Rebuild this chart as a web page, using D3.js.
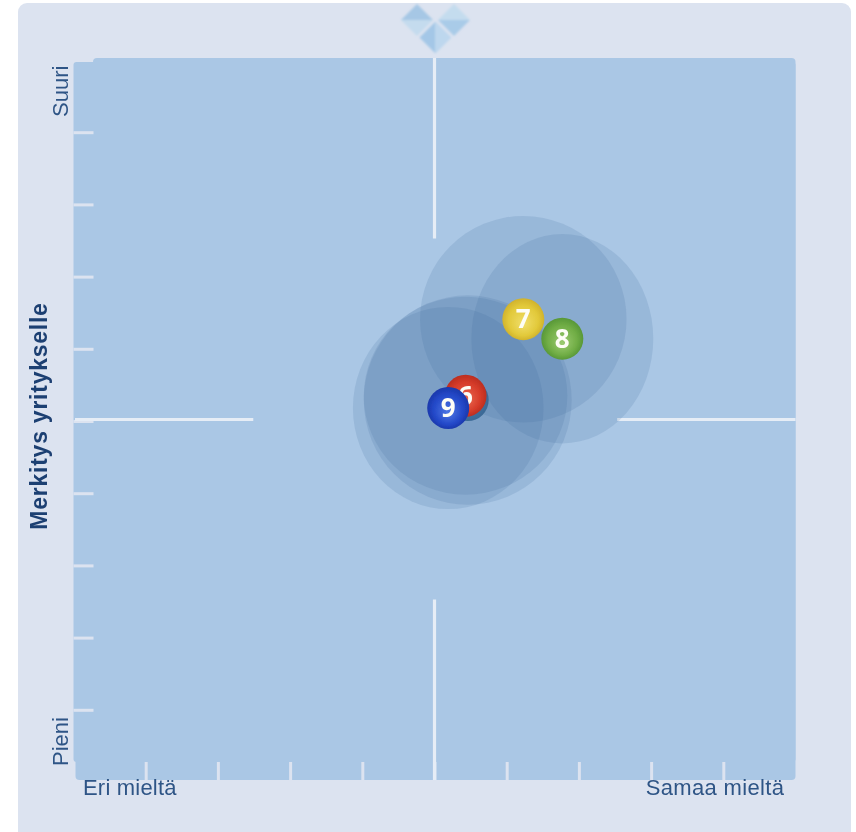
<!DOCTYPE html>
<html><head><meta charset="utf-8">
<script src="https://cdn.jsdelivr.net/npm/d3@7"></script>
<style>html,body{margin:0;padding:0;background:#fff}svg{display:block}</style>
</head><body><svg id="c" width="856" height="832"></svg>
<script>
const pointIds    = ["", "6", "7", "8", "9"];
const agreement   = [5.46, 5.43, 6.23, 6.77, 5.19];
const importance  = [5.29, 5.35, 6.41, 6.14, 5.18];
const spreadX     = [1.44, 1.41, 1.43, 1.26, 1.32];
const spreadY     = [1.45, 1.37, 1.43, 1.45, 1.40];
const ballColors  = [["#5f8db8","#3f6f9c","#3a6894"],["#ec6a50","#d63c2a","#b92c1f"],["#f0de6a","#e2c93a","#cfb02a"],["#9ccb72","#70ad45","#559535"],["#4f78e4","#2348c8","#1a36a8"]];
const tickValues  = [1,2,3,4,5,6,7,8,9];
const yEndLabels  = ["Pieni","Suuri"];
const xEndLabels  = ["Eri mieltä","Samaa mieltä"];
const yTitle      = "Merkitys yritykselle";
const points = pointIds.map((id,i)=>({id,x:agreement[i],y:importance[i],sx:spreadX[i],sy:spreadY[i],c:ballColors[i]}));

const svg = d3.select("#c");
const defs = svg.append("defs");
const blur = defs.append("filter").attr("id","soft").attr("filterUnits","userSpaceOnUse");
blur.attr("x",0).attr("y",0).attr("width",856).attr("height",832);
blur.append("feGaussianBlur").attr("stdDeviation",0.6);
const blur2 = defs.append("filter").attr("id","soft2").attr("filterUnits","userSpaceOnUse");
blur2.attr("x",0).attr("y",0).attr("width",856).attr("height",832);
blur2.append("feGaussianBlur").attr("stdDeviation",1.1);
points.forEach((p,i)=>{
  const g = defs.append("radialGradient").attr("id","ball"+i).attr("cx","50%").attr("cy","50%").attr("r","52%").attr("fx","50%").attr("fy","62%");
  g.append("stop").attr("offset","0%").attr("stop-color",p.c[0]);
  g.append("stop").attr("offset","68%").attr("stop-color",p.c[1]);
  g.append("stop").attr("offset","100%").attr("stop-color",p.c[2]);
});

const root = svg.append("g").attr("filter","url(#soft)");
const panelColor = "#dce3f0", plotColor = "#aac7e5", crossColor = "#e6edf6";
root.append("rect").attr("x",18).attr("y",3).attr("width",833).attr("height",840).attr("rx",9).attr("fill",panelColor);

// logo
const logoCells = [
  {cx:417,cy:20,a:"#a6c7e5",b:"#c4dbee",horizontal:true},
  {cx:454,cy:20,a:"#c4dcee",b:"#a9cbe8",horizontal:true},
  {cx:435.5,cy:37.5,a:"#a4c7e7",b:"#bdd7ee",horizontal:false}
];
const h = 16;
const logo = root.append("g").attr("filter","url(#soft2)");
logoCells.forEach(d=>{
  const pts1 = d.horizontal ? [[d.cx-h,d.cy],[d.cx,d.cy-h],[d.cx+h,d.cy]] : [[d.cx,d.cy-h],[d.cx-h,d.cy],[d.cx,d.cy+h]];
  const pts2 = d.horizontal ? [[d.cx-h,d.cy],[d.cx,d.cy+h],[d.cx+h,d.cy]] : [[d.cx,d.cy-h],[d.cx+h,d.cy],[d.cx,d.cy+h]];
  logo.append("polygon").attr("points",pts1.join(" ")).attr("fill",d.a);
  logo.append("polygon").attr("points",pts2.join(" ")).attr("fill",d.b);
});

const x = d3.scaleLinear().domain([0,10]).range([73.5,795.5]);
const y = d3.scaleLinear().domain([0,10]).range([782,60]);

// plot background (stepped corners)
root.append("rect").attr("x",93).attr("y",58).attr("width",702.5).attr("height",722).attr("rx",4).attr("fill",plotColor);
root.append("rect").attr("x",73.5).attr("y",62).attr("width",722).attr("height",700).attr("rx",3).attr("fill",plotColor);
root.append("rect").attr("x",75.5).attr("y",700).attr("width",717.5).attr("height",80).attr("rx",4).attr("fill",plotColor);

// ticks
const yAxis = d3.axisLeft(y).tickValues(tickValues).tickSize(-20).tickFormat("");
const xAxis = d3.axisBottom(x).tickValues(tickValues).tickSize(-18).tickFormat("");
const ya = root.append("g").attr("transform","translate(73.5,0)").call(yAxis);
const xa = root.append("g").attr("transform","translate(0,780)").call(xAxis);
[ya,xa].forEach(a=>{a.select(".domain").remove();a.selectAll("line").attr("stroke",panelColor).attr("stroke-width",3);});

// central cross
[[7.5,10],[0,2.5]].forEach(r=>{
  root.append("line").attr("x1",x(5)).attr("x2",x(5)).attr("y1",y(r[1])-2).attr("y2",y(r[0])-2)
    .attr("stroke",crossColor).attr("stroke-width",3.2);
});
root.append("line").attr("x1",75).attr("x2",x(2.49)).attr("y1",y(5)-1.6).attr("y2",y(5)-1.6).attr("stroke",crossColor).attr("stroke-width",3);
root.append("line").attr("x1",x(7.53)).attr("x2",795.5).attr("y1",y(5)-1.6).attr("y2",y(5)-1.6).attr("stroke",crossColor).attr("stroke-width",3);

// halos
root.append("g").selectAll("ellipse").data(points).join("ellipse")
  .attr("cx",d=>x(d.x)).attr("cy",d=>y(d.y))
  .attr("rx",d=>x(d.sx)-x(0)).attr("ry",d=>y(0)-y(d.sy))
  .attr("fill","#3d6a9e").attr("fill-opacity",0.16);

// balls
const balls = root.append("g").selectAll("g").data(points).join("g")
  .attr("transform",d=>`translate(${x(d.x)},${y(d.y)})`);
balls.append("circle").attr("r",21).attr("fill",(d,i)=>`url(#ball${i})`);
balls.append("text").text(d=>d.id).attr("text-anchor","middle").attr("y",9)
  .attr("font-family","Open Sans").attr("font-weight","bold").attr("font-size",26).attr("fill","#fdfdf6");

// labels
const labelColor = "#2f5586";
const lab = (t,tr,anchor,ls)=>root.append("text").text(t).attr("transform",tr).attr("text-anchor",anchor||"start")
  .attr("letter-spacing",ls||0).attr("font-family","Liberation Sans").attr("font-size",22).attr("fill",labelColor);
lab(xEndLabels[0],"translate(83,795)","start",0.2);
lab(xEndLabels[1],"translate(784.3,795)","end",0.34);
lab(yEndLabels[0],"translate(68,766) rotate(-90)");
lab(yEndLabels[1],"translate(68,117) rotate(-90)");
root.append("text").text(yTitle).attr("transform","translate(46.5,416) rotate(-90)").attr("text-anchor","middle")
  .attr("font-family","Liberation Sans").attr("font-weight","bold").attr("font-size",23).attr("letter-spacing",0.75).attr("fill","#1d3f72");
</script>
</body></html>
